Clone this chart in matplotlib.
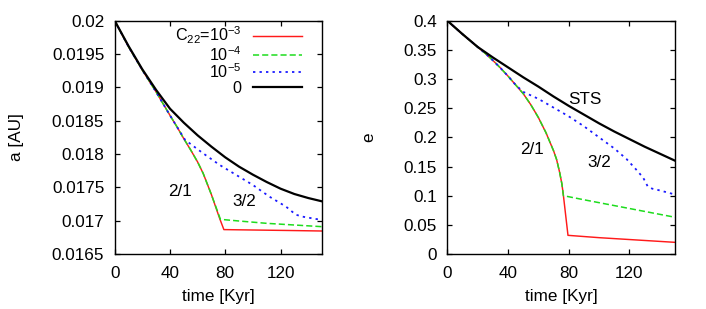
import matplotlib
matplotlib.use("Agg")
import matplotlib.pyplot as plt
from matplotlib.lines import Line2D
from matplotlib.legend import Legend
from matplotlib.ticker import FixedLocator, FixedFormatter

plt.rcParams['font.family'] = ['Liberation Sans', 'DejaVu Sans']
plt.rcParams['mathtext.fontset'] = 'custom'
plt.rcParams['mathtext.rm'] = 'Liberation Sans'
plt.rcParams['mathtext.it'] = 'Liberation Sans'
plt.rcParams['mathtext.default'] = 'rm'

# ---------------- data ----------------
# semi-major axis a [AU] vs time [Kyr]
t_a_red = [0, 10, 20, 30, 40, 45, 50, 55, 60, 64, 70, 76, 79, 100, 125, 150]
a_red = [0.02000, 0.01961, 0.01926, 0.01893, 0.01858, 0.01841, 0.01823, 0.01806,
         0.01788, 0.01771, 0.01739, 0.01703, 0.016866, 0.016860, 0.016853, 0.016845]

t_a_green = [0, 10, 20, 30, 40, 45, 50, 55, 60, 64, 70, 76.5, 90, 110, 130, 150]
a_green = [0.02000, 0.01961, 0.01926, 0.01893, 0.01858, 0.01841, 0.01823, 0.01806,
           0.01788, 0.01771, 0.01739, 0.01702, 0.016995, 0.01696, 0.016935, 0.01691]

t_a_blue = [0, 10, 20, 30, 40, 45, 51, 64, 76, 88, 100, 112, 124, 131, 136, 150]
a_blue = [0.02000, 0.01961, 0.01926, 0.01893, 0.01858, 0.01841, 0.01821, 0.01801,
          0.017835, 0.017685, 0.017535, 0.01736, 0.01721, 0.01709, 0.01706, 0.01701]

t_a_black = [0, 10, 20, 30, 40, 50, 60, 70, 80, 90, 100, 110, 120, 130, 140, 150]
a_black = [0.02000, 0.01962, 0.01927, 0.01896, 0.01868, 0.01847, 0.01828, 0.01811,
           0.01795, 0.01781, 0.01769, 0.01758, 0.01748, 0.01740, 0.01734, 0.01729]

# eccentricity e vs time [Kyr]
t_e_red = [0, 10, 20, 25, 30, 35, 40, 45, 50, 55, 60, 65, 70, 72, 74, 75.5, 76.5,
           79.5, 100, 125, 150]
e_red = [0.400, 0.377, 0.355, 0.344, 0.332, 0.319, 0.305, 0.290, 0.275, 0.256, 0.234,
         0.208, 0.177, 0.162, 0.140, 0.120, 0.100, 0.032, 0.028, 0.024, 0.020]

t_e_green = [0, 10, 20, 25, 30, 35, 40, 45, 50, 55, 60, 65, 70, 72, 74, 75.5, 76.5,
             90, 110, 130, 150]
e_green = [0.400, 0.377, 0.355, 0.344, 0.332, 0.319, 0.305, 0.290, 0.275, 0.256, 0.234,
           0.208, 0.177, 0.162, 0.140, 0.120, 0.100, 0.093, 0.083, 0.073, 0.063]

t_e_blue = [0, 10, 20, 25, 30, 35, 40, 45, 50, 60, 70, 80, 90, 100, 110, 118, 124,
            129, 132, 135, 140, 150]
e_blue = [0.400, 0.377, 0.355, 0.344, 0.332, 0.319, 0.305, 0.290, 0.278, 0.266, 0.251,
          0.236, 0.219, 0.200, 0.181, 0.163, 0.146, 0.131, 0.116, 0.112, 0.109, 0.102]

t_e_black = [0, 10, 20, 30, 40, 50, 60, 70, 80, 90, 100, 110, 120, 130, 140, 150]
e_black = [0.400, 0.377, 0.355, 0.337, 0.320, 0.303, 0.287, 0.270, 0.254, 0.239,
           0.224, 0.210, 0.197, 0.184, 0.172, 0.160]

series_labels = ['C$_{22}$=10$^{-3}$', '10$^{-4}$', '10$^{-5}$', '0']

x_ticks = [0, 40, 80, 120]
x_tick_labels = ['0', '40', '80', '120']
a_ticks = [0.0165, 0.017, 0.0175, 0.018, 0.0185, 0.019, 0.0195, 0.02]
a_tick_labels = ['0.0165', '0.017', '0.0175', '0.018', '0.0185', '0.019', '0.0195', '0.02']
e_ticks = [0, 0.05, 0.1, 0.15, 0.2, 0.25, 0.3, 0.35, 0.4]
e_tick_labels = ['0', '0.05', '0.1', '0.15', '0.2', '0.25', '0.3', '0.35', '0.4']

# ---------------- styles ----------------
FS = 12.3
LEG_FS = 11.6
RED, GREEN, BLUE, BLACK = '#ff1a1a', '#1edc1e', '#1a1aff', '#000000'
style_red = dict(color=RED, lw=1.05, ls='-')
style_green = dict(color=GREEN, lw=1.1, ls=(0, (4.0, 2.0)))
style_blue = dict(color=BLUE, lw=1.3, ls=(0, (1.3, 2.3)))
style_black = dict(color=BLACK, lw=1.6, ls='-')

fig = plt.figure(figsize=(7.06, 3.09), dpi=100)
W, H = 706, 309
ax1 = fig.add_axes([114.7 / W, 1 - 254 / H, (322 - 114.7) / W, (254 - 20.7) / H])
ax2 = fig.add_axes([447.3 / W, 1 - 254 / H, (675 - 447.3) / W, (254 - 20.7) / H])

for ax in (ax1, ax2):
    for s in ax.spines.values():
        s.set_linewidth(1.0)
    ax.tick_params(direction='in', top=True, right=True, length=3.4, width=0.9,
                   labelsize=FS)
    ax.tick_params(axis='x', pad=9.0)
    ax.tick_params(axis='y', pad=7.6)
    ax.xaxis.set_major_locator(FixedLocator(x_ticks))
    ax.xaxis.set_major_formatter(FixedFormatter(x_tick_labels))
    ax.set_xlim(0, 150)
    ax.set_xlabel('time [Kyr]', fontsize=FS, va='center')
    ax.xaxis.set_label_coords(0.50, -0.184)

# left panel
ax1.plot(t_a_red, a_red, **style_red)
ax1.plot(t_a_green, a_green, **style_green)
ax1.plot(t_a_blue, a_blue, **style_blue)
ax1.plot(t_a_black, a_black, **style_black)
ax1.set_ylim(0.0165, 0.02)
ax1.yaxis.set_major_locator(FixedLocator(a_ticks))
ax1.yaxis.set_major_formatter(FixedFormatter(a_tick_labels))
ax1.set_ylabel('a [AU]', fontsize=FS, va='center')
ax1.yaxis.set_label_coords(-0.475, 0.50)
ax1.text(47.1, 0.017435, '2/1', fontsize=FS, ha='center', va='center')
ax1.text(94.1, 0.017285, '3/2', fontsize=FS, ha='center', va='center')

# right panel
ax2.plot(t_e_red, e_red, **style_red)
ax2.plot(t_e_green, e_green, **style_green)
ax2.plot(t_e_blue, e_blue, **style_blue)
ax2.plot(t_e_black, e_black, **style_black)
ax2.set_ylim(0, 0.4)
ax2.yaxis.set_major_locator(FixedLocator(e_ticks))
ax2.yaxis.set_major_formatter(FixedFormatter(e_tick_labels))
ax2.set_ylabel('e', fontsize=FS, va='center')
ax2.yaxis.set_label_coords(-0.345, 0.50)
ax2.text(90.6, 0.265, 'STS', fontsize=FS, ha='center', va='center')
ax2.text(56.0, 0.180, '2/1', fontsize=FS, ha='center', va='center')
ax2.text(100.0, 0.157, '3/2', fontsize=FS, ha='center', va='center')

# legend: one row per entry, text right-aligned left of the sample line
row_y = [0.937, 0.856, 0.783, 0.710]
styles = [style_red, style_green, style_blue, style_black]
for lab, st, y in zip(series_labels, styles, row_y):
    h = Line2D([], [], **st)
    leg = Legend(ax1, [h], [lab], loc='center right', bbox_to_anchor=(0.902, y),
                 bbox_transform=ax1.transAxes, frameon=False, markerfirst=False,
                 handlelength=3.0, handletextpad=0.75, borderpad=0,
                 borderaxespad=0, fontsize=LEG_FS)
    ax1.add_artist(leg)

fig.savefig('out.png', dpi=100)
